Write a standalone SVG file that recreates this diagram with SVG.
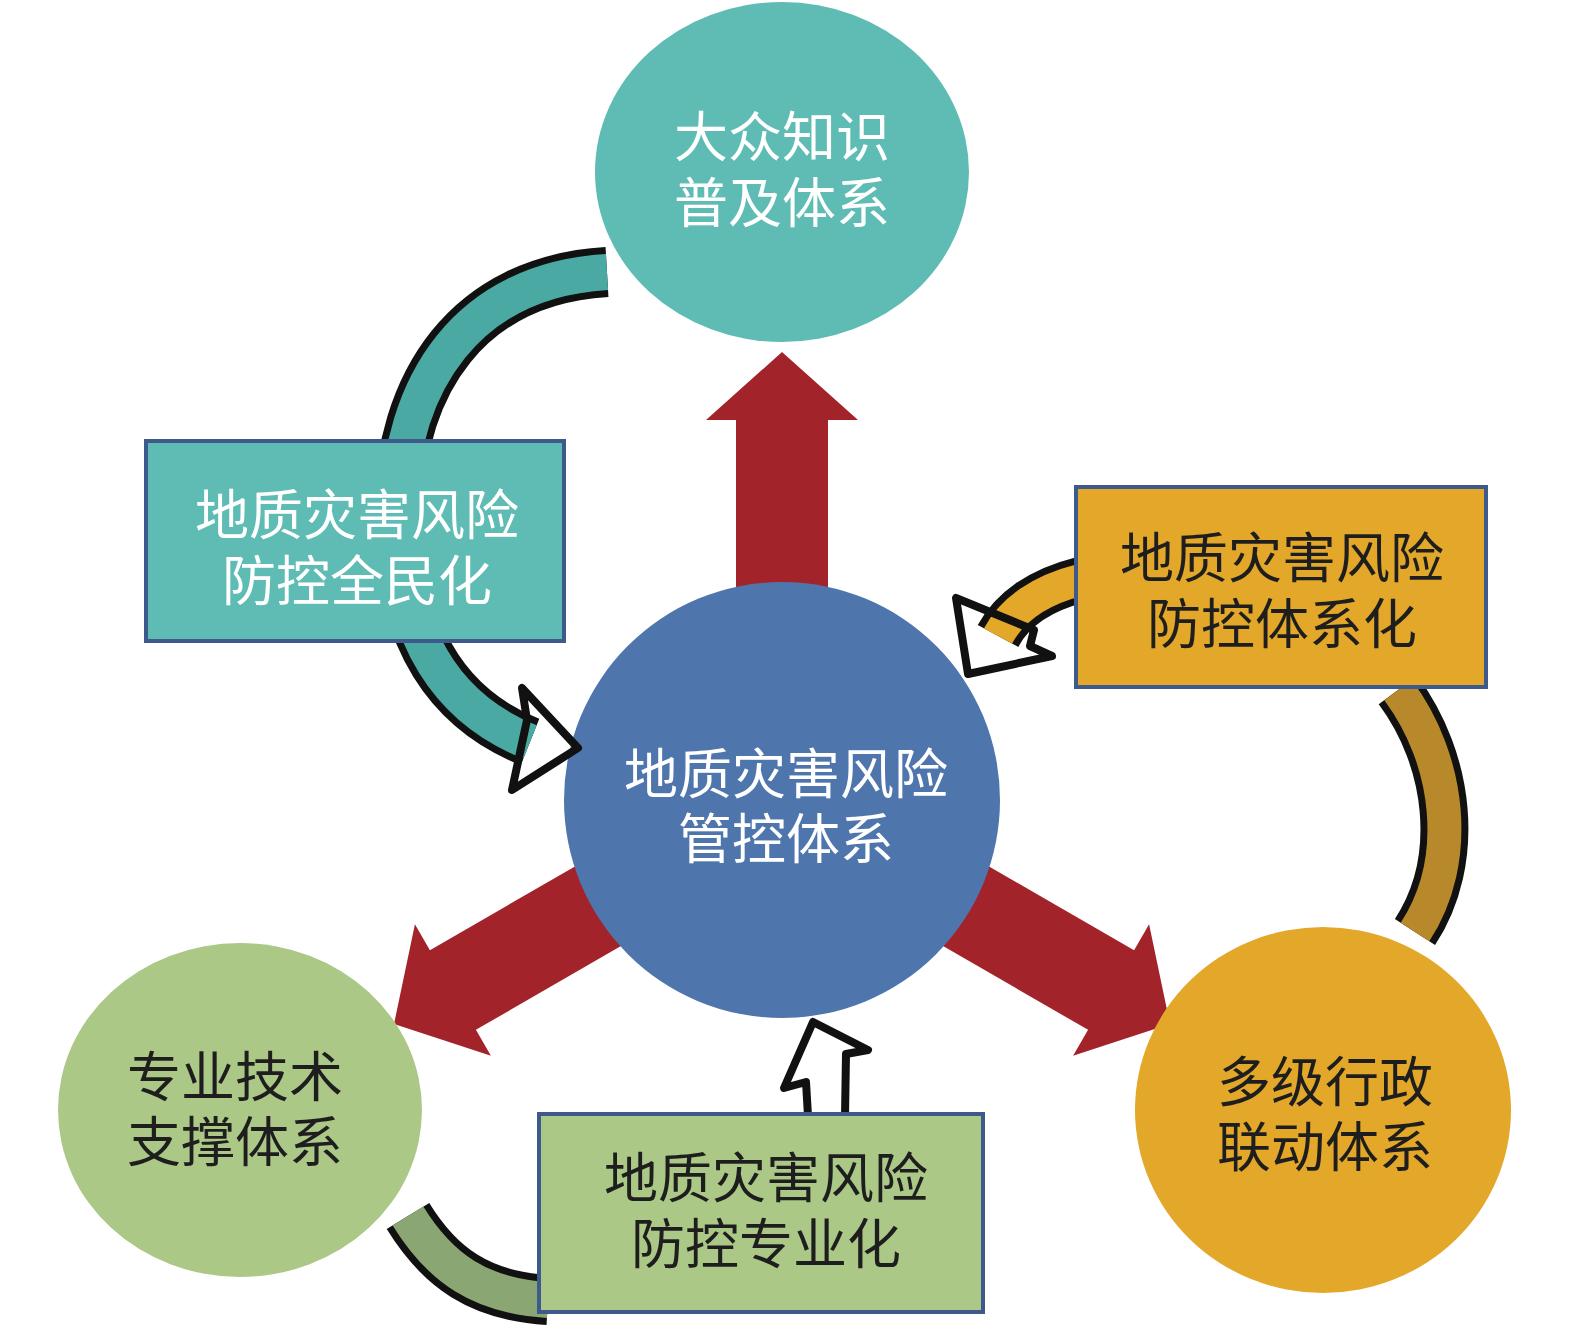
<svg xmlns="http://www.w3.org/2000/svg" width="1575" height="1337" viewBox="0 0 1575 1337">
<style>
.t{font-family:"Liberation Serif","Noto Sans CJK SC",serif;font-size:54px;text-anchor:middle}
.w{fill:#fff}.d{fill:#1e1e1e}
.box{stroke:#3e5a8c;stroke-width:4}
.ol{stroke:#111;stroke-width:8;stroke-linejoin:round;fill:none}
</style>
<defs>
<polygon id="red" points="736,600 736,420 706,420 782,352 858,420 828,420 828,600" fill="#a3232b"/>
</defs>
<rect width="1575" height="1337" fill="#fff"/>
<g id="connectors">
<use href="#red"/>
<use href="#red" transform="rotate(-120 782 800)"/>
<use href="#red" transform="rotate(120 782 800)"/>
</g>
<g id="n-top"><ellipse cx="782" cy="172" rx="187" ry="170" fill="#5fbcb4"/>
<text class="t w" x="782" y="157">大众知识</text><text class="t w" x="782" y="223">普及体系</text></g>
<g id="n-bl"><ellipse cx="240" cy="1110" rx="182" ry="167" fill="#abc887"/>
<text class="t d" x="235" y="1097">专业技术</text><text class="t d" x="235" y="1162">支撑体系</text></g>
<g id="n-br"><ellipse cx="1323" cy="1110" rx="188" ry="183" fill="#e3a72a"/>
<text class="t d" x="1325" y="1102">多级行政</text><text class="t d" x="1325" y="1167">联动体系</text></g>
<g id="n-center"><circle cx="782" cy="800" r="218" fill="#4f75ad"/>
<text class="t w" x="786" y="794">地质灾害风险</text><text class="t w" x="786" y="859">管控体系</text></g>
<g id="curves">
<path d="M607,272 C470,280 398,380 398,520 C400,640 450,710 530,742" stroke="#111" stroke-width="50" fill="none"/>
<path d="M607,272 C470,280 398,380 398,520 C400,640 450,710 530,742" stroke="#4aa9a2" stroke-width="36" fill="none"/>
<polygon class="ol" points="578,748 522,688 527,720 512,790" fill="#5fbcb4"/>
<path d="M1080,580 C1040,590 1012,610 998,636" stroke="#111" stroke-width="46" fill="none"/>
<path d="M1080,580 C1040,590 1012,610 998,636" stroke="#e3a72a" stroke-width="32" fill="none"/>
<polygon class="ol" points="956,598 968,674 1052,656 1030,646 1034,630" fill="#e3a72a"/>
<path d="M1398,690 C1450,760 1462,860 1415,932" stroke="#111" stroke-width="48" fill="none"/>
<path d="M1398,690 C1450,760 1462,860 1415,932" stroke="#b8892a" stroke-width="34" fill="none"/>
<path d="M408,1216 C440,1268 480,1296 548,1300" stroke="#111" stroke-width="50" fill="none"/>
<path d="M408,1216 C440,1268 480,1296 548,1300" stroke="#8aa672" stroke-width="36" fill="none"/>
<polygon class="ol" points="808,1116 806,1082 784,1088 813,1022 868,1050 846,1054 845,1116" fill="#abc887"/>
</g>
<g id="b-left"><rect class="box" x="146" y="441" width="418" height="200" fill="#5fbcb4"/>
<text class="t w" x="357" y="535">地质灾害风险</text><text class="t w" x="357" y="601">防控全民化</text></g>
<g id="b-right"><rect class="box" x="1076" y="487" width="410" height="200" fill="#e3a72a"/>
<text class="t d" x="1282" y="578">地质灾害风险</text><text class="t d" x="1282" y="644">防控体系化</text></g>
<g id="b-bottom"><rect class="box" x="539" y="1114" width="444" height="198" fill="#abc887"/>
<text class="t d" x="766" y="1198">地质灾害风险</text><text class="t d" x="766" y="1264">防控专业化</text></g>
</svg>
